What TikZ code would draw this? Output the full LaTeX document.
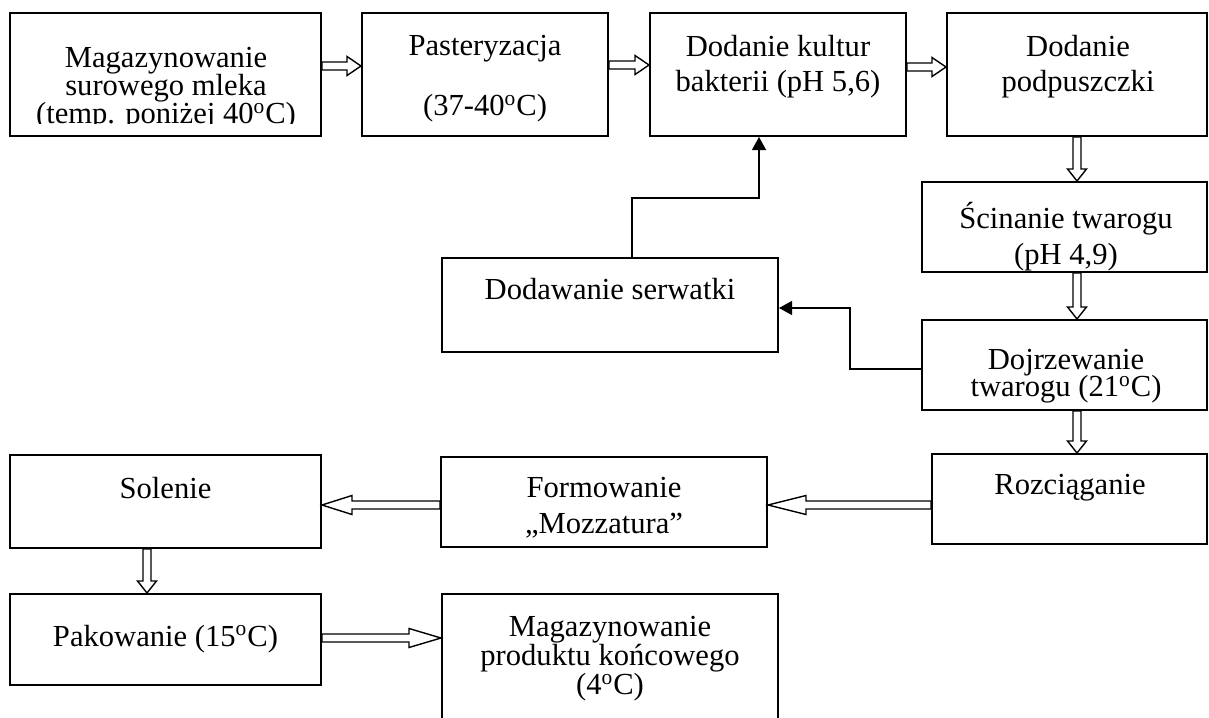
\documentclass[tikz,border=0pt]{standalone}
\usepackage{fontspec}
\setmainfont{Liberation Serif}
\usetikzlibrary{arrows.meta,calc}

\tikzset{
  box/.style={draw, line width=1pt, rectangle, inner sep=0pt},
  txt/.style={inner sep=0pt, align=center, anchor=north,
    font=\fontsize{15.3}{17.5}\selectfont,
    execute at begin node={\lineskiplimit=-20pt\relax\rule{0pt}{11pt}}},
  blockarrow/.style={draw, line width=0.7pt, line join=miter},
  link/.style={line width=0.6pt, -{Triangle[length=6.5pt,width=7pt]}}
}
% hollow block arrow from #2 to #3, #1 = head length
\newcommand{\flowarrow}[3][7pt]{%
  \draw[blockarrow] let \p1=(#2), \p2=(#3),
    \n1={atan2(\y2-\y1,\x2-\x1)}, \n2={veclen(\x2-\x1,\y2-\y1)} in
    [shift={(\p1)}, rotate=\n1]
    (0pt,2pt) -- ({\n2*1pt-#1},2pt) -- ({\n2*1pt-#1},4.75pt) -- ({\n2*1pt},0pt)
    -- ({\n2*1pt-#1},-4.75pt) -- ({\n2*1pt-#1},-2pt) -- (0pt,-2pt) -- cycle;}

\begin{document}
\begin{tikzpicture}[x=0.5pt,y=-0.5pt]
\useasboundingbox (0,0) rectangle (1209,717);

%Boxes
\node[box, minimum width=155.5pt, minimum height=61.5pt] (store) at (165.5,74.5) {};
\node[box, minimum width=123pt, minimum height=61.5pt] (past) at (485,74.5) {};
\node[box, minimum width=128pt, minimum height=61.5pt] (cult) at (778,74.5) {};
\node[box, minimum width=130pt, minimum height=61.5pt] (rennet) at (1077,74.5) {};
\node[box, minimum width=142.5pt, minimum height=45pt] (curd) at (1064.5,227) {};
\node[box, minimum width=142.5pt, minimum height=45pt] (ripen) at (1064.5,365) {};
\node[box, minimum width=168pt, minimum height=47pt] (whey) at (610,305) {};
\node[box, minimum width=137.5pt, minimum height=45pt] (stretch) at (1069.5,499) {};
\node[box, minimum width=163pt, minimum height=45pt] (form) at (604,502) {};
\node[box, minimum width=155.5pt, minimum height=46.5pt] (salt) at (165.5,501.5) {};
\node[box, minimum width=155.5pt, minimum height=45.5pt] (pack) at (165.5,639.5) {};
\node[box, minimum width=168pt, minimum height=65.5pt] (final) at (610,659.5) {};

% Text Node
\begin{scope}
\clip (10,13) rectangle (321,124);
\node[txt, font=\fontsize{15.3}{14}\selectfont] (storeT) at (166,47)
  {Magazynowanie\\surowego mleka\\(temp. poniżej 40\textsuperscript{o}C)};
\end{scope}
% Text Node
\node[txt, font=\fontsize{15.3}{30}\selectfont] (pastT) at (485,35)
  {Pasteryzacja\\(37-40\textsuperscript{o}C)};
% Text Node
\node[txt] (cultT) at (778,35) {Dodanie kultur\\bakterii (pH 5,6)};
% Text Node
\node[txt] (rennetT) at (1078,35) {Dodanie\\podpuszczki};
% Text Node
\node[txt, font=\fontsize{15.3}{18}\selectfont] (curdT) at (1066,202)
  {Ścinanie twarogu\\(pH 4,9)};
% Text Node
\node[txt, font=\fontsize{15.3}{13.5}\selectfont] (ripenT) at (1066,349)
  {Dojrzewanie\\twarogu (21\textsuperscript{o}C)};
% Text Node
\node[txt] (wheyT) at (610,277) {Dodawanie serwatki};
% Text Node
\node[txt] (stretchT) at (1070,472) {Rozciąganie};
% Text Node
\node[txt, font=\fontsize{15.3}{18}\selectfont] (formT) at (604,477)
  {Formowanie\\„Mozzatura”};
% Text Node
\node[txt] (saltT) at (165.5,476) {Solenie};
% Text Node
\node[txt] (packT) at (165.5,624) {Pakowanie (15\textsuperscript{o}C)};
% Text Node
\node[txt, font=\fontsize{15.3}{14.5}\selectfont] (finalT) at (610,616)
  {Magazynowanie\\produktu końcowego\\(4\textsuperscript{o}C)};

%Block arrows
\flowarrow{[yshift=4.25pt]store.east}{[yshift=4.25pt]past.west}
\flowarrow{[yshift=4.75pt]past.east}{[yshift=4.75pt]cult.west}
\flowarrow{[yshift=3.75pt]cult.east}{[yshift=3.75pt]rennet.west}
\flowarrow[6pt]{rennet.south}{[xshift=6.25pt]curd.north}
\flowarrow[6pt]{[xshift=6.25pt]curd.south}{[xshift=6.25pt]ripen.north}
\flowarrow[6pt]{[xshift=6.25pt]ripen.south}{[xshift=3.75pt]stretch.north}
\flowarrow[19pt]{[yshift=-3pt]stretch.west}{[yshift=-1.5pt]form.east}
\flowarrow[15pt]{[yshift=-1.5pt]form.west}{[yshift=-1.75pt]salt.east}
\flowarrow[6pt]{[xshift=-9.25pt]salt.south}{[xshift=-9.25pt]pack.north}
\flowarrow[16pt]{[yshift=0.75pt]pack.east}{[yshift=10.75pt]final.west}

%Feedback lines
\draw[link] ([xshift=11pt]whey.north) |- ([xshift=-9.5pt,yshift=-30.5pt]cult.south)
  -- ([xshift=-9.5pt]cult.south);
\draw[link] ([yshift=-2pt]ripen.west) -- ++(-71,0) |- ([yshift=-1.5pt]whey.east);
\end{tikzpicture}
\end{document}
